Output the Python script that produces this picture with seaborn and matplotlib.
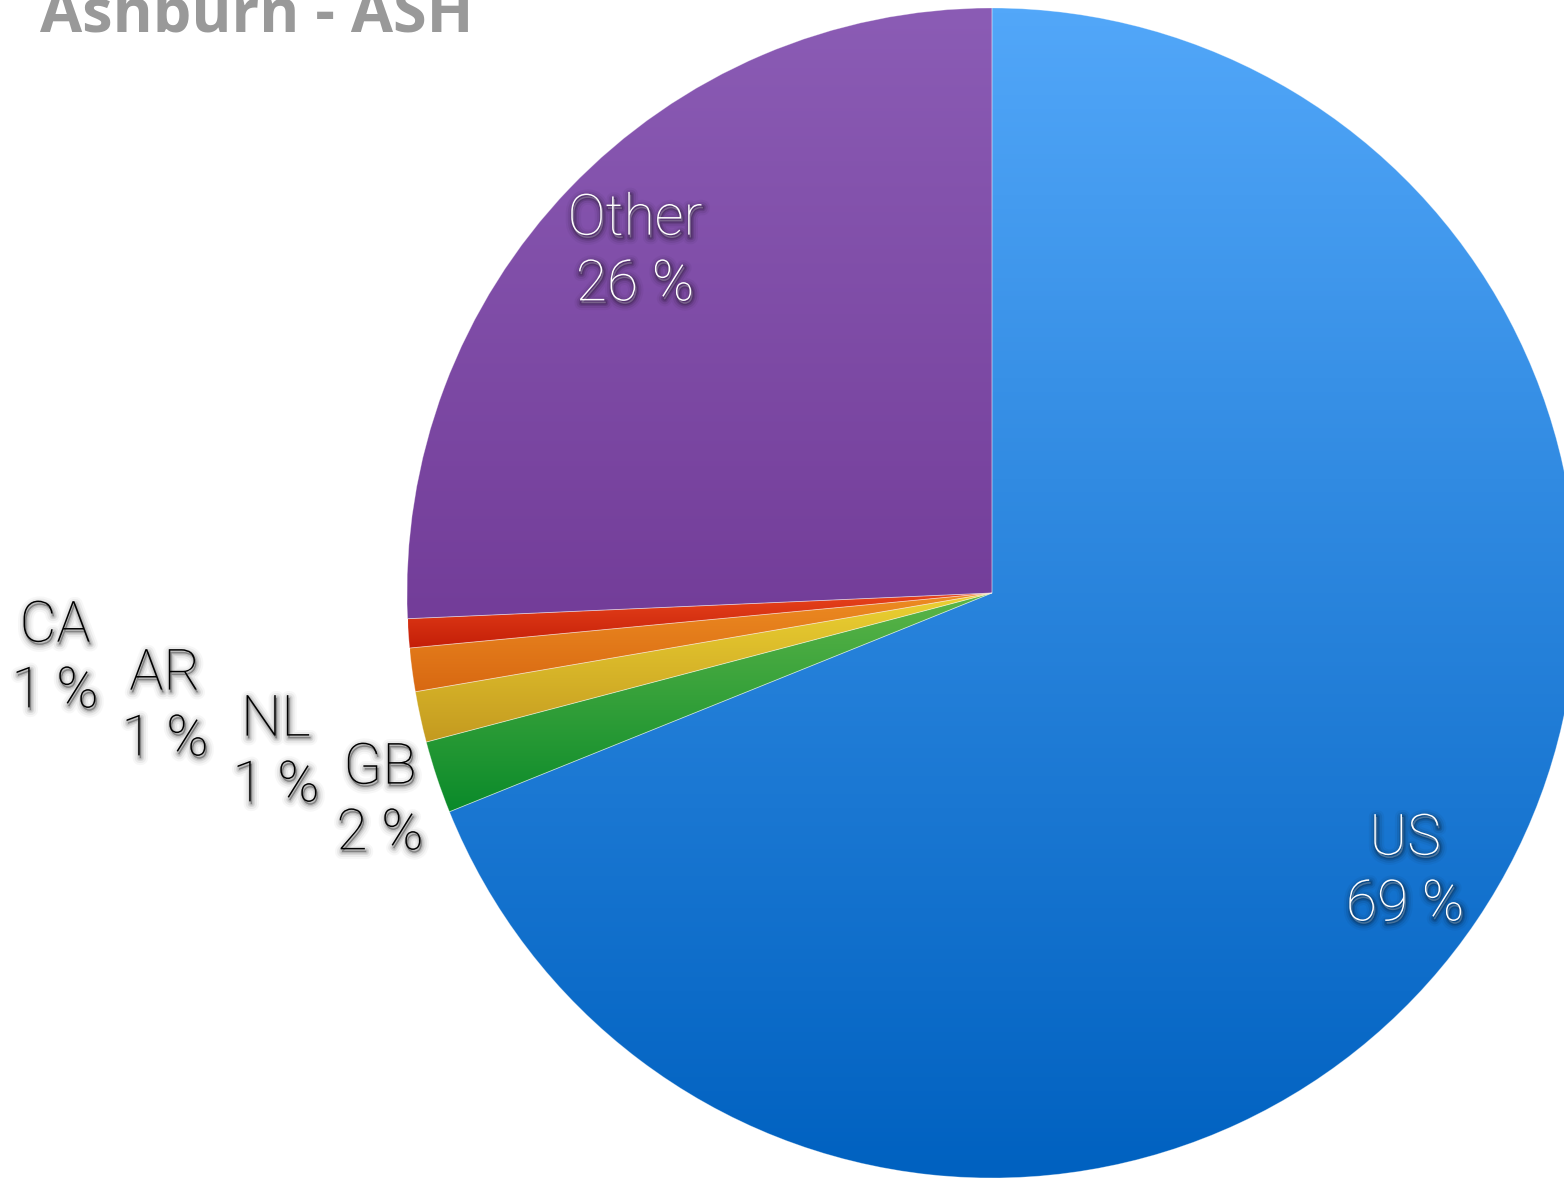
import numpy as np
import matplotlib
matplotlib.use('Agg')
import matplotlib.pyplot as plt
import matplotlib.patheffects as pe
import seaborn as sns

countries = ['US', 'GB', 'NL', 'AR', 'CA', 'Other']
shares = [68.9, 2.0, 1.4, 1.2, 0.8, 25.7]
top_colors = ['#52a7f9', '#5cb548', '#ecd232', '#ed8c22', '#e8441c', '#8b5cb5']
bottom_colors = ['#0061c0', '#0a8a2a', '#c49a20', '#d86812', '#c41e08', '#733d99']
text_colors = ['white', 'black', 'black', 'black', 'black', 'white']

# label centres in pixel coords (x, y from top)
label_pos = [(1405, 872), (380, 801), (276, 753), (165, 707), (55, 659), (635, 252)]

W, H = 1564, 1178
sns.set_theme(style='white')
plt.rcParams['font.family'] = ['Roboto', 'DejaVu Sans']

fig = plt.figure(figsize=(W / 100, H / 100), dpi=100)
ax = fig.add_axes([0, 0, 1, 1])
ax.set_xlim(0, W)
ax.set_ylim(0, H)

cx, cy, r = 992, H - 593, 585
wedges, _ = ax.pie(shares, startangle=90, counterclock=False,
                   center=(cx, cy), radius=r, frame=True,
                   wedgeprops=dict(linewidth=0))

grad = np.linspace(0, 1, 256).reshape(-1, 1)
for w, c_top, c_bot in zip(wedges, top_colors, bottom_colors):
    bb = w.get_path().get_extents()
    cmap = sns.blend_palette([c_bot, c_top], n_colors=256, as_cmap=True)
    im = ax.imshow(grad, cmap=cmap, origin='lower', aspect='auto',
                   extent=(bb.x0, bb.x1, bb.y0, bb.y1), zorder=2)
    im.set_clip_path(w)
    w.set_facecolor('none')
    w.set_edgecolor((1, 1, 1, 0.35))
    w.set_linewidth(0.6)
    w.set_zorder(3)

for name, v, (px, py), tc in zip(countries, shares, label_pos, text_colors):
    glow = 'black' if tc == 'white' else '#444444'
    effects = [pe.Stroke(linewidth=10, foreground=glow, alpha=0.04, offset=(1, -2)),
               pe.Stroke(linewidth=7, foreground=glow, alpha=0.07, offset=(1, -2)),
               pe.Stroke(linewidth=4, foreground=glow, alpha=0.12, offset=(1, -2)),
               pe.Stroke(linewidth=2, foreground=glow, alpha=0.15, offset=(1, -2)),
               pe.Normal()]
    ax.text(px, H - py, f"{name}\n{round(v)} %", ha='center', va='center',
            fontsize=41, fontweight='light', color=tc, linespacing=1.25,
            zorder=5, path_effects=effects)

ax.text(40, H - 31, 'Ashburn - ASH', ha='left', va='baseline',
        fontsize=44, fontweight='bold', color='#999999',
        family=['Open Sans', 'DejaVu Sans'], zorder=5)

ax.set_xlim(0, W)
ax.set_ylim(0, H)
ax.set_aspect('auto')
ax.axis('off')
fig.savefig('out.png', dpi=100)
